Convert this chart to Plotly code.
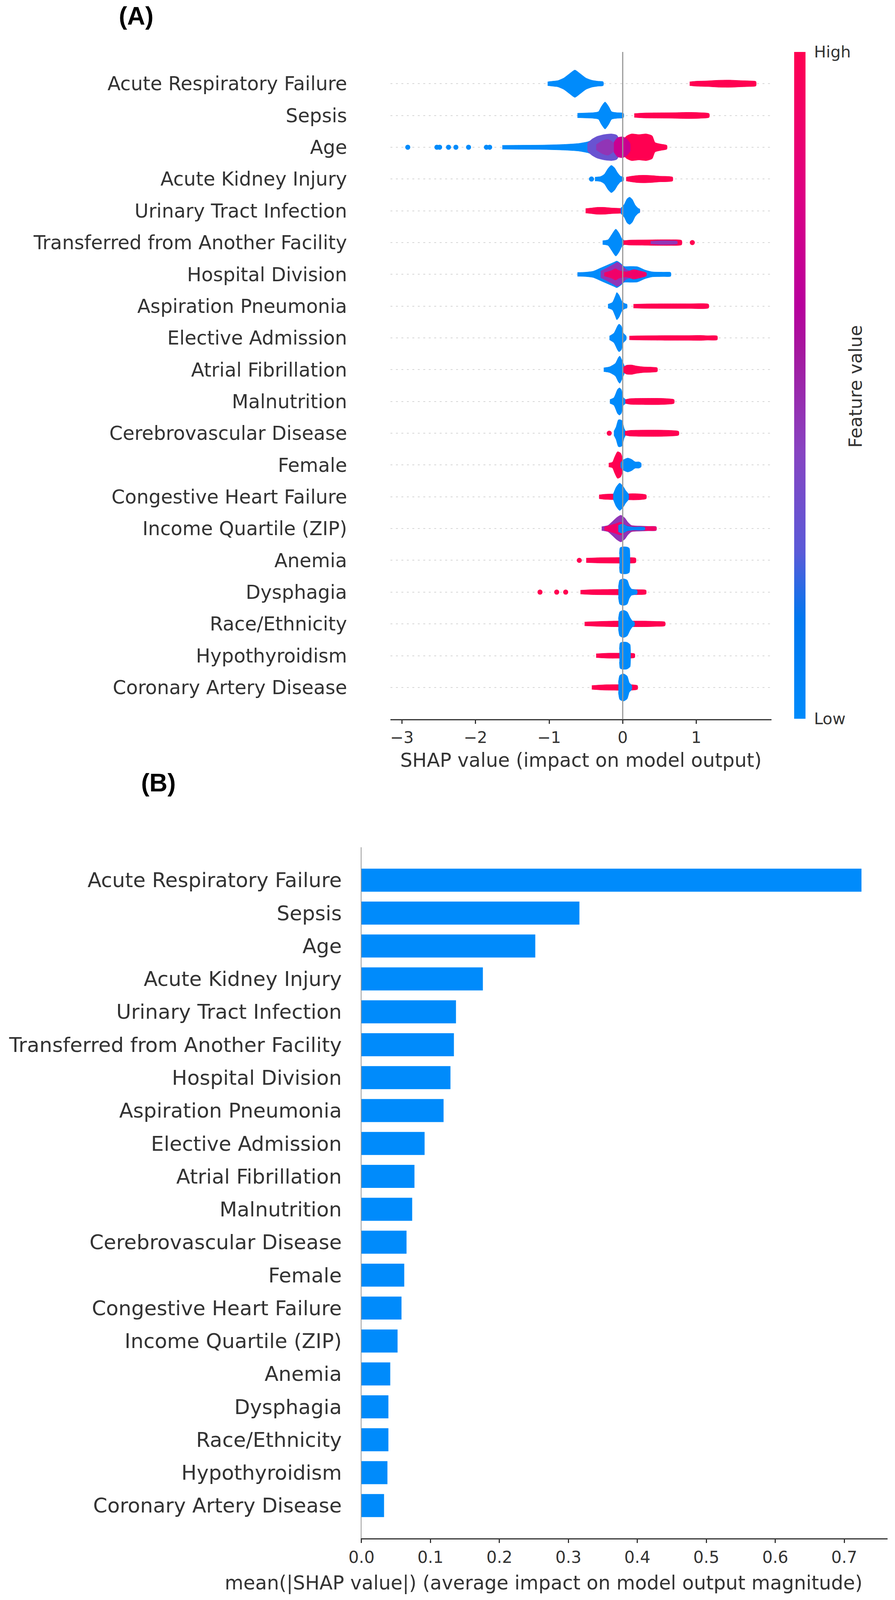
import plotly.graph_objects as go
from plotly.colors import sample_colorscale

# reference canvas is 2290 x 5824; the browser screen stops at 4096 px,
# so the page is drawn 4096 high and every vertical position is kept as a
# fraction of the reference height
W, H_REF, H = 2290, 5824, 4096

# features, top to bottom
features = [
    "Acute Respiratory Failure", "Sepsis", "Age", "Acute Kidney Injury",
    "Urinary Tract Infection", "Transferred from Another Facility",
    "Hospital Division", "Aspiration Pneumonia", "Elective Admission",
    "Atrial Fibrillation", "Malnutrition", "Cerebrovascular Disease",
    "Female", "Congestive Heart Failure", "Income Quartile (ZIP)",
    "Anemia", "Dysphagia", "Race/Ethnicity", "Hypothyroidism",
    "Coronary Artery Disease",
]

# panel B: mean(|SHAP|)
mean_abs_shap = [0.725, 0.316, 0.252, 0.176, 0.137, 0.134, 0.129, 0.119,
                 0.0915, 0.0768, 0.0735, 0.0653, 0.062, 0.058, 0.0523,
                 0.0417, 0.039, 0.039, 0.0376, 0.0327]

# panel A: beeswarm outline per feature
# (feature value 0..1, SHAP values along the swarm, half thickness in rows)
arf_swarm = [
    (0.0, [-1.02, -0.95, -0.88, -0.80, -0.72, -0.65, -0.58, -0.50, -0.42, -0.34, -0.265],
          [0.06, 0.08, 0.10, 0.18, 0.32, 0.43, 0.32, 0.18, 0.11, 0.08, 0.06]),
    (1.0, [0.91, 1.0, 1.15, 1.3, 1.45, 1.6, 1.72, 1.81],
          [0.06, 0.08, 0.09, 0.11, 0.115, 0.10, 0.09, 0.07]),
]
sepsis_swarm = [
    (0.0, [-0.615, -0.5, -0.4, -0.33, -0.29, -0.24, -0.19, -0.15, -0.08, 0.01],
          [0.07, 0.08, 0.09, 0.12, 0.28, 0.425, 0.28, 0.12, 0.09, 0.07]),
    (1.0, [0.157, 0.3, 0.5, 0.7, 0.9, 1.05, 1.174],
          [0.06, 0.08, 0.085, 0.09, 0.10, 0.09, 0.06]),
]
age_swarm = [
    (0.0, [-1.636, -1.4, -1.1, -0.8, -0.6, -0.48, -0.4],
          [0.06, 0.065, 0.07, 0.09, 0.12, 0.17, 0.22]),
    (0.3, [-0.48, -0.42, -0.35, -0.25, -0.15, -0.08, -0.04],
          [0.12, 0.25, 0.34, 0.40, 0.42, 0.38, 0.2]),
    (0.45, [-0.36, -0.28, -0.2, -0.12],
           [0.08, 0.2, 0.25, 0.12]),
    (1.0, [-0.04, 0.05, 0.12, 0.22, 0.32, 0.40, 0.44, 0.52, 0.60],
          [0.1, 0.35, 0.42, 0.40, 0.42, 0.36, 0.15, 0.10, 0.06]),
    (0.7, [-0.12, -0.07, 0.0, 0.06, 0.1],
          [0.15, 0.3, 0.33, 0.25, 0.12]),
]
aki_swarm = [
    (0.0, [-0.377, -0.3, -0.25, -0.2, -0.155, -0.11, -0.07, -0.03, 0.01],
          [0.06, 0.08, 0.15, 0.33, 0.43, 0.35, 0.2, 0.09, 0.06]),
    (1.0, [0.047, 0.12, 0.21, 0.3, 0.395, 0.5, 0.6, 0.678],
          [0.06, 0.09, 0.115, 0.12, 0.11, 0.09, 0.085, 0.06]),
]
uti_swarm = [
    (1.0, [-0.504, -0.42, -0.35, -0.25, -0.15, -0.05, 0.05, 0.2, 0.23],
          [0.07, 0.09, 0.11, 0.11, 0.09, 0.08, 0.07, 0.06, 0.05]),
    (0.0, [-0.027, 0.02, 0.06, 0.094, 0.13, 0.17, 0.21, 0.23],
          [0.08, 0.2, 0.38, 0.43, 0.36, 0.18, 0.08, 0.06]),
]
transfer_swarm = [
    (0.0, [-0.273, -0.2, -0.15, -0.094, -0.05, -0.01, 0.02],
          [0.06, 0.09, 0.25, 0.425, 0.3, 0.12, 0.07]),
    (1.0, [0.01, 0.1, 0.3, 0.5, 0.65, 0.8],
          [0.06, 0.08, 0.085, 0.09, 0.09, 0.07]),
    (0.45, [0.38, 0.5, 0.62, 0.74],
           [0.04, 0.06, 0.06, 0.04]),
]
division_swarm = [
    (0.0, [-0.615, -0.5, -0.4, -0.3, -0.2, -0.12, -0.08, -0.03, 0.02, 0.1, 0.2, 0.3, 0.4, 0.55, 0.652],
          [0.06, 0.07, 0.1, 0.2, 0.3, 0.38, 0.42, 0.35, 0.25, 0.25, 0.24, 0.14, 0.08, 0.07, 0.06]),
    (0.45, [-0.3, -0.2, -0.12, -0.07, -0.02, 0.05, 0.1],
           [0.1, 0.22, 0.32, 0.38, 0.3, 0.15, 0.1]),
    (0.9, [-0.25, -0.15, -0.1, -0.05, 0.05, 0.15, 0.25, 0.32],
          [0.05, 0.12, 0.18, 0.12, 0.08, 0.15, 0.10, 0.05]),
]
aspiration_swarm = [
    (0.0, [-0.2, -0.14, -0.1, -0.08, -0.05, -0.01, 0.03, 0.058],
          [0.06, 0.12, 0.32, 0.43, 0.35, 0.15, 0.08, 0.06]),
    (1.0, [0.146, 0.3, 0.6, 0.9, 1.166],
          [0.06, 0.07, 0.075, 0.075, 0.06]),
]
elective_swarm = [
    (0.0, [-0.18, -0.12, -0.07, -0.05, -0.02, 0.01, 0.047],
          [0.06, 0.15, 0.38, 0.435, 0.38, 0.15, 0.06]),
    (1.0, [0.09, 0.3, 0.6, 0.9, 1.05, 1.15, 1.284],
          [0.06, 0.07, 0.075, 0.075, 0.08, 0.07, 0.06]),
]
afib_swarm = [
    (0.0, [-0.258, -0.18, -0.1, -0.06, -0.04, -0.01, 0.028],
          [0.06, 0.09, 0.2, 0.38, 0.43, 0.3, 0.08]),
    (1.0, [0.01, 0.05, 0.12, 0.18, 0.28, 0.4, 0.469],
          [0.08, 0.14, 0.15, 0.12, 0.09, 0.08, 0.06]),
]
malnutrition_swarm = [
    (0.0, [-0.174, -0.12, -0.07, -0.045, -0.02, 0.01, 0.04],
          [0.06, 0.12, 0.38, 0.43, 0.38, 0.12, 0.06]),
    (1.0, [0.036, 0.1, 0.3, 0.5, 0.6, 0.697],
          [0.06, 0.09, 0.10, 0.10, 0.09, 0.06]),
]
cerebro_swarm = [
    (0.0, [-0.12, -0.09, -0.06, -0.04, -0.01, 0.02, 0.04],
          [0.06, 0.2, 0.42, 0.43, 0.4, 0.15, 0.06]),
    (1.0, [0.03, 0.1, 0.3, 0.5, 0.65, 0.76],
          [0.06, 0.09, 0.10, 0.10, 0.09, 0.06]),
]
female_swarm = [
    (1.0, [-0.19, -0.14, -0.11, -0.07, -0.03, 0.0, 0.01],
          [0.06, 0.09, 0.25, 0.42, 0.38, 0.2, 0.06]),
    (0.0, [-0.03, 0.0, 0.04, 0.07, 0.12, 0.17, 0.22, 0.25],
          [0.06, 0.15, 0.2, 0.22, 0.18, 0.1, 0.1, 0.06]),
]
chf_swarm = [
    (1.0, [-0.321, -0.25, -0.15, 0.0, 0.15, 0.25, 0.319],
          [0.06, 0.08, 0.09, 0.09, 0.10, 0.09, 0.06]),
    (0.0, [-0.129, -0.09, -0.042, 0.0, 0.04, 0.08],
          [0.08, 0.3, 0.43, 0.35, 0.2, 0.08]),
]
income_swarm = [
    (0.45, [-0.286, -0.2, -0.15, -0.08, -0.025, 0.03, 0.07, 0.12, 0.25, 0.35, 0.455],
           [0.06, 0.1, 0.2, 0.35, 0.42, 0.33, 0.2, 0.1, 0.08, 0.07, 0.06]),
    (0.9, [-0.25, -0.1, -0.03, 0.05, 0.2, 0.455],
          [0.05, 0.15, 0.2, 0.1, 0.06, 0.05]),
    (0.05, [-0.06, 0.0, 0.06, 0.15, 0.3],
           [0.1, 0.15, 0.08, 0.05, 0.04]),
]
anemia_swarm = [
    (1.0, [-0.496, -0.3, -0.1, 0.05, 0.176],
          [0.07, 0.085, 0.09, 0.09, 0.07]),
    (0.0, [-0.045, -0.035, 0.0, 0.06, 0.09, 0.098],
          [0.2, 0.4, 0.425, 0.42, 0.38, 0.2]),
]
dysphagia_swarm = [
    (1.0, [-0.574, -0.4, -0.2, 0.0, 0.2, 0.316],
          [0.06, 0.08, 0.085, 0.09, 0.08, 0.06]),
    (0.0, [-0.059, -0.04, 0.01, 0.06, 0.09, 0.12, 0.194],
          [0.15, 0.38, 0.42, 0.38, 0.2, 0.1, 0.06]),
]
race_swarm = [
    (1.0, [-0.518, -0.3, -0.1, 0.1, 0.3, 0.45, 0.574],
          [0.06, 0.08, 0.09, 0.09, 0.09, 0.08, 0.06]),
    (0.0, [-0.059, -0.04, 0.01, 0.06, 0.1, 0.13, 0.159],
          [0.15, 0.38, 0.43, 0.38, 0.2, 0.1, 0.06]),
]
hypothyroid_swarm = [
    (1.0, [-0.361, -0.2, 0.0, 0.1, 0.162],
          [0.06, 0.08, 0.08, 0.08, 0.06]),
    (0.0, [-0.045, -0.035, 0.0, 0.06, 0.1, 0.106],
          [0.2, 0.4, 0.43, 0.42, 0.35, 0.2]),
]
cad_swarm = [
    (1.0, [-0.42, -0.25, -0.05, 0.1, 0.2],
          [0.06, 0.085, 0.09, 0.09, 0.06]),
    (0.0, [-0.059, -0.04, 0.01, 0.06, 0.09, 0.122],
          [0.15, 0.38, 0.43, 0.36, 0.15, 0.07]),
]
swarms = [arf_swarm, sepsis_swarm, age_swarm, aki_swarm, uti_swarm,
          transfer_swarm, division_swarm, aspiration_swarm, elective_swarm,
          afib_swarm, malnutrition_swarm, cerebro_swarm, female_swarm,
          chf_swarm, income_swarm, anemia_swarm, dysphagia_swarm, race_swarm,
          hypothyroid_swarm, cad_swarm]

# isolated points sitting on the row line
age_dots = [-2.921, -2.525, -2.488, -2.367, -2.267, -2.095, -1.852, -1.808]
aki_dots = [-0.424]
transfer_dots = [0.946]
cerebro_dots = [-0.183]
anemia_dots = [-0.59]
dysphagia_dots = [-1.124, -0.897, -0.775]
dots = [("Age", 0.0, age_dots), ("Acute Kidney Injury", 0.0, aki_dots),
        ("Transferred from Another Facility", 1.0, transfer_dots),
        ("Cerebrovascular Disease", 1.0, cerebro_dots),
        ("Anemia", 1.0, anemia_dots), ("Dysphagia", 1.0, dysphagia_dots)]

# shap red_blue colour map
red_blue = [[0.0, "#008bfb"], [0.15, "#0077ef"], [0.25, "#5a5ad8"],
            [0.4, "#8744c2"], [0.55, "#a5189f"], [0.62, "#b8009d"],
            [0.78, "#dc0085"], [0.9, "#f10069"], [1.0, "#ff0051"]]

n = len(features)
pos = [n - 1 - i for i in range(n)]
row_of = dict(zip(features, pos))
txt = "#333333"
font = "DejaVu Sans"


def fy(py):
    # reference pixel row -> paper fraction
    return 1 - py / H_REF


fig = go.Figure()

for p, clusters in zip(pos, swarms):
    for val, xs, hs in clusters:
        col = sample_colorscale(red_blue, [val])[0]
        fig.add_trace(go.Scatter(
            x=xs + xs[::-1],
            y=[p + h for h in hs] + [p - h for h in hs[::-1]],
            mode="lines", fill="toself", fillcolor=col,
            line=dict(color=col, width=1, shape="spline", smoothing=0.6),
            hoverinfo="skip", xaxis="x", yaxis="y"))

for name, val, xs in dots:
    col = sample_colorscale(red_blue, [val])[0]
    fig.add_trace(go.Scatter(
        x=xs, y=[row_of[name]] * len(xs), mode="markers",
        marker=dict(size=13, color=col, line_width=0),
        hoverinfo="skip", xaxis="x", yaxis="y"))

# colour bar
cb_len = (2616 - 189) * H / H_REF
fig.add_trace(go.Scatter(
    x=[None], y=[None], mode="markers", xaxis="x", yaxis="y",
    marker=dict(color=[0.0], colorscale=red_blue, cmin=0, cmax=1, showscale=True,
                colorbar=dict(x=2028 / W, xanchor="left", y=fy(1402.5),
                              yanchor="middle", len=cb_len, lenmode="pixels",
                              thickness=29, thicknessmode="pixels",
                              outlinewidth=0, xpad=0, ypad=0,
                              tickvals=[0, 1], ticktext=["Low", "High"],
                              ticks="outside", ticklen=14,
                              tickcolor="rgba(0,0,0,0)",
                              tickfont=dict(family=font, size=41, color=txt))),
    hoverinfo="skip"))

# panel B bars
fig.add_trace(go.Bar(
    x=mean_abs_shap, y=pos, orientation="h", width=0.7,
    marker=dict(color="#008bfb", line_width=0),
    xaxis="x2", yaxis="y2", hoverinfo="skip"))

fig.update_layout(
    width=W, height=H, margin=dict(l=0, r=0, t=0, b=0),
    plot_bgcolor="white", paper_bgcolor="white", showlegend=False,
    font=dict(family=font, color=txt),
    xaxis=dict(domain=[980 / W, 1969 / W], range=[-3.157, 2.02], anchor="y",
               tickvals=[-3, -2, -1, 0, 1],
               ticktext=["\u22123", "\u22122", "\u22121", "0", "1"],
               ticks="outside", ticklen=9, tickwidth=2.5, tickcolor=txt,
               showline=True, linecolor=txt, linewidth=3,
               showgrid=False, zeroline=False,
               tickfont=dict(size=41, color=txt)),
    yaxis=dict(domain=[fy(2618), fy(189)], range=[-1, n], anchor="x",
               tickvals=pos, ticktext=features, ticks="outside", ticklen=100,
               tickcolor="rgba(0,0,0,0)", showgrid=True, gridcolor="#d6d6d6",
               griddash="5px,9px", gridwidth=2, zeroline=False, showline=False,
               tickfont=dict(size=49, color=txt), automargin=False),
    xaxis2=dict(domain=[905 / W, 2271 / W], range=[0, 0.763], anchor="y2",
                tickvals=[0, 0.1, 0.2, 0.3, 0.4, 0.5, 0.6, 0.7],
                ticktext=["0.0", "0.1", "0.2", "0.3", "0.4", "0.5", "0.6", "0.7"],
                ticks="outside", ticklen=9, tickwidth=2.5, tickcolor=txt,
                showline=True, linecolor=txt, linewidth=3,
                showgrid=False, zeroline=False,
                tickfont=dict(size=42, color=txt)),
    yaxis2=dict(domain=[fy(5600), fy(3084)], range=[-1, n], anchor="x2",
                tickvals=pos, ticktext=features, ticks="outside", ticklen=38,
                tickcolor="rgba(0,0,0,0)", showgrid=False, zeroline=False,
                showline=True, linecolor="#999999", linewidth=2,
                tickfont=dict(size=52, color=txt), automargin=False),
)

# zero line of the beeswarm, drawn over the points
fig.add_shape(type="line", xref="x", yref="y domain", x0=0, x1=0, y0=0, y1=1,
              line=dict(color="#999999", width=3), layer="above")

ann = [
    ("<b>(A)</b>", 320, 58, 64, "Liberation Sans", "black", 0),
    ("<b>(B)</b>", 378, 2849, 64, "Liberation Sans", "black", 0),
    ("SHAP value (impact on model output)", 1475, 2768, 49, font, txt, 0),
    ("mean(|SHAP value|) (average impact on model output magnitude)",
     1378, 5762, 49, font, txt, 0),
    ("Feature value", 2187, 1406, 46, font, txt, -90),
]
for text, px, py, size, fam, col, ang in ann:
    fig.add_annotation(text=text, x=px / W, y=fy(py), xref="paper",
                       yref="paper", xanchor="center", yanchor="middle",
                       showarrow=False, textangle=ang,
                       font=dict(family=fam, size=size, color=col))

fig.write_html("out.html", config={"displayModeBar": False},
               post_script="document.body.style.margin='0';")
